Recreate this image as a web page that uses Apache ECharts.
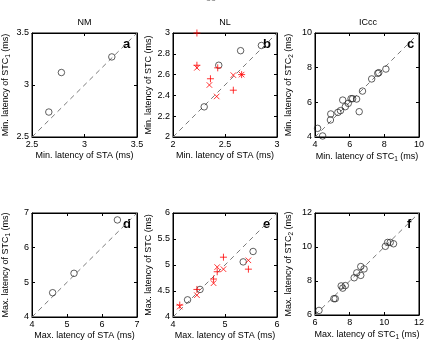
<!DOCTYPE html>
<html><head><meta charset="utf-8">
<script src="https://cdn.jsdelivr.net/npm/echarts@6/dist/echarts.min.js"></script>
<style>html,body{margin:0;padding:0;background:#fff}#c{width:427px;height:342px}</style>
</head><body><div id="c"></div>
<script>
// ---- data ----
const titles = ['NM', 'NL', 'ICcc'];
const panelLetters = ['a', 'b', 'c', 'd', 'e', 'f'];
const xNames = ['Min. latency of STA (ms)', 'Min. latency of STA (ms)', 'Min. latency of STC{s|1} (ms)',
                'Max. latency of STA (ms)', 'Max. latency of STA (ms)', 'Max. latency of STC{s|1} (ms)'];
const yNames = ['Min. latency of STC{s|1} (ms)', 'Min. latency of STC (ms)', 'Min. latency of STC{s|2} (ms)',
                'Max. latency of STC{s|1} (ms)', 'Max. latency of STC (ms)', 'Max. latency of STC{s|2} (ms)'];
const xRanges = [[2.5, 3.5, 0.5], [2, 3, 0.5], [4, 10, 2], [4, 7, 1], [4, 6, 1], [6, 12, 2]];
const yRanges = [[2.5, 3.5, 0.5], [2, 3, 0.2], [4, 10, 2], [4, 7, 1], [4, 6, 0.5], [6, 12, 2]];

const aCircles = [[2.66, 2.74], [2.78, 3.12], [3.26, 3.27]];
const bCircles = [[2.30, 2.29], [2.44, 2.69], [2.65, 2.83], [2.85, 2.88]];
const bPlus = [[2.23, 3.0], [2.23, 2.69], [2.36, 2.56], [2.43, 2.665], [2.58, 2.45], [2.66, 2.60]];
const bCross = [[2.23, 2.665], [2.35, 2.50], [2.42, 2.39], [2.58, 2.595], [2.66, 2.60]];
const cCircles = [[4.15, 4.50], [4.44, 4.06], [4.89, 4.98], [4.91, 5.33], [5.32, 5.42], [5.47, 5.52],
  [5.60, 6.13], [5.75, 5.75], [5.92, 5.94], [6.08, 6.21], [6.17, 6.21], [6.40, 6.19], [6.55, 5.46],
  [6.74, 6.65], [7.27, 7.35], [7.62, 7.67], [7.68, 7.71], [8.09, 7.92]];
const dCircles = [[4.59, 4.70], [5.20, 5.26], [6.44, 6.80]];
const eCircles = [[4.28, 4.33], [4.52, 4.53], [5.35, 5.06], [5.54, 5.26]];
const ePlus = [[4.13, 4.23], [4.46, 4.53], [4.78, 4.73], [4.85, 4.87], [4.97, 5.15], [5.45, 4.92]];
const eCross = [[4.13, 4.20], [4.46, 4.42], [4.78, 4.65], [4.85, 4.96], [4.97, 4.92], [5.45, 5.09]];
const fCircles = [[6.23, 6.27], [7.09, 6.96], [7.17, 6.96], [7.51, 7.71], [7.60, 7.58], [7.75, 7.73],
  [8.26, 8.19], [8.41, 8.48], [8.64, 8.33], [8.64, 8.85], [8.83, 8.71], [10.06, 10.04],
  [10.19, 10.27], [10.34, 10.27], [10.53, 10.19]];

const circleSets = [aCircles, bCircles, cCircles, dCircles, eCircles, fCircles];
const plusSets = [[], bPlus, [], [], ePlus, []];
const crossSets = [[], bCross, [], [], eCross, []];

// ---- layout ----
const lefts = [32, 173, 315];
const widths = [105, 104, 106];
const tops = [33, 213];
const H = 104;
const FONT = 'Liberation Sans, Arial, sans-serif';

const chart = echarts.init(document.getElementById('c'), null, {renderer: 'canvas'});
const grid = [], xAxis = [], yAxis = [], series = [], graphic = [];
const rich = {s: {fontSize: 6.5, fontFamily: FONT, color: '#000', padding: [5, 0, 0, 0]}};

for (let i = 0; i < 6; i++) {
  const col = i % 3, row = Math.floor(i / 3);
  grid.push({left: lefts[col], top: tops[row], width: widths[col], height: H,
    show: true, borderColor: '#000', borderWidth: 1, containLabel: false});
  const xr = xRanges[i], yr = yRanges[i];
  const common = {axisLine: {show: true, lineStyle: {color: '#000', width: 1}},
    axisTick: {show: true, inside: true, length: 3, lineStyle: {color: '#000'}},
    splitLine: {show: false}};
  xAxis.push(Object.assign({type: 'value', gridIndex: i, min: xr[0], max: xr[1], interval: xr[2],
    name: xNames[i], nameLocation: 'middle', nameGap: 14,
    nameTextStyle: {fontSize: 9, fontFamily: FONT, color: '#000', rich: rich},
    axisLabel: {fontSize: 9, fontFamily: FONT, color: '#000', margin: 3}}, common));
  xAxis.push(Object.assign({type: 'value', gridIndex: i, position: 'top', min: xr[0], max: xr[1], interval: xr[2],
    axisLabel: {show: false}}, common));
  yAxis.push(Object.assign({type: 'value', gridIndex: i, min: yr[0], max: yr[1], interval: yr[2],
    name: yNames[i], nameLocation: 'middle', nameGap: 20,
    nameTextStyle: {fontSize: 9, fontFamily: FONT, color: '#000', rich: rich},
    axisLabel: {fontSize: 9, fontFamily: FONT, color: '#000', margin: 3}}, common));
  yAxis.push(Object.assign({type: 'value', gridIndex: i, position: 'right', min: yr[0], max: yr[1], interval: yr[2],
    axisLabel: {show: false}}, common));
  const xi = 2 * i, yi = 2 * i;
  series.push({type: 'line', xAxisIndex: xi, yAxisIndex: yi, symbol: 'none', silent: true,
    data: [[xr[0], yr[0]], [xr[1], yr[1]]],
    lineStyle: {color: '#7a7a7a', width: 1, type: [5, 4]}, z: 1});
  series.push({type: 'scatter', xAxisIndex: xi, yAxisIndex: yi, symbol: 'circle', symbolSize: 6.5,
    data: circleSets[i], itemStyle: {color: 'rgba(0,0,0,0)', borderColor: '#222', borderWidth: 0.9}, z: 3});
  if (plusSets[i].length) {
    series.push({type: 'scatter', xAxisIndex: xi, yAxisIndex: yi,
      symbol: 'path://M5,0 L5,10 M0,5 L10,5', symbolSize: 7,
      data: plusSets[i], itemStyle: {color: 'rgba(0,0,0,0)', borderColor: '#ff0000', borderWidth: 1}, z: 4});
    series.push({type: 'scatter', xAxisIndex: xi, yAxisIndex: yi,
      symbol: 'path://M0,0 L10,10 M0,10 L10,0', symbolSize: 5.5,
      data: crossSets[i], itemStyle: {color: 'rgba(0,0,0,0)', borderColor: '#ff0000', borderWidth: 1}, z: 4});
  }
  graphic.push({type: 'text', left: lefts[col] + widths[col] - 14, top: tops[row] + 5,
    style: {text: panelLetters[i], font: 'bold 13px ' + FONT, fill: '#000'}});
  if (row === 0) {
    graphic.push({type: 'text', x: lefts[col] + widths[col] / 2, y: 23,
      style: {text: titles[col], font: '9px ' + FONT, fill: '#000', align: 'center', verticalAlign: 'middle'}});
  }
}
graphic.push({type: 'text', x: 211, y: -6, style: {text: '33', font: '9px ' + FONT, fill: '#888', align: 'center'}});

chart.setOption({animation: false, backgroundColor: '#fff', grid, xAxis, yAxis, series, graphic});
</script></body></html>
